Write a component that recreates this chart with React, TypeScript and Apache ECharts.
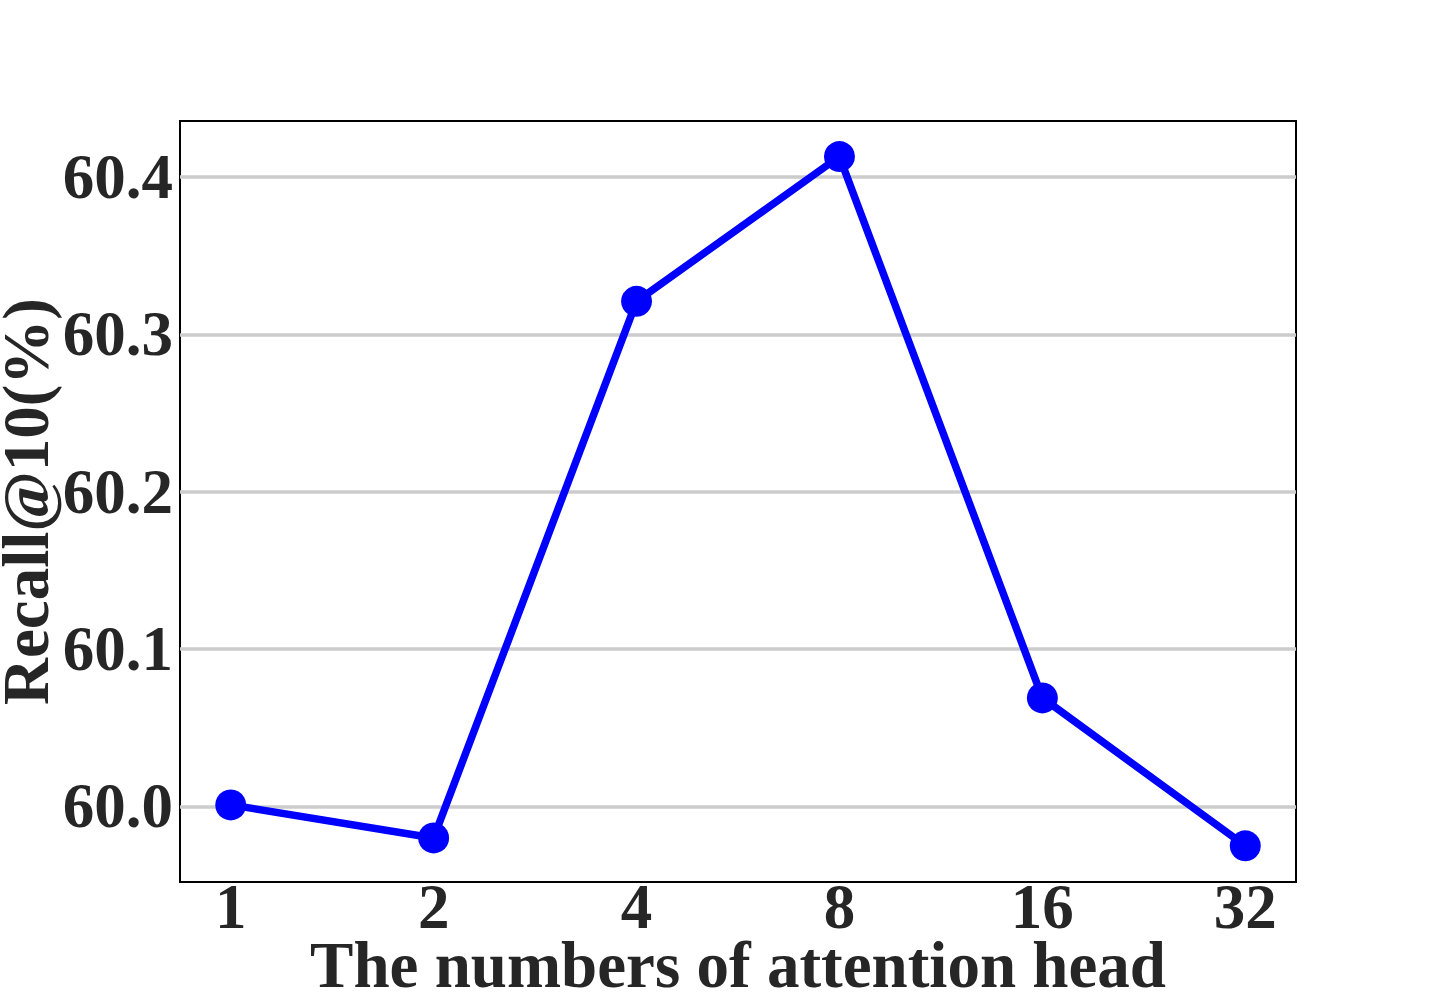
import React, { useEffect, useRef } from "react";
import * as echarts from "echarts";

const categories = ["1", "2", "4", "8", "16", "32"];
const recallValues = [60.001, 59.98, 60.321, 60.413, 60.069, 59.975];
const yTickValues = [60.0, 60.1, 60.2, 60.3, 60.4];
const xTickIndex = [0, 1, 2, 3, 4, 5];

const FONT = "'Liberation Serif', 'Times New Roman', serif";
const TEXT = "#262626";

export default function App() {
  const ref = useRef<HTMLDivElement>(null);
  useEffect(() => {
    document.body.style.margin = "0";
    const chart = echarts.init(ref.current!, null, { renderer: "svg" });
    chart.setOption({
      animation: false,
      backgroundColor: "#ffffff",
      grid: {
        left: 180,
        top: 121,
        right: 144,
        bottom: 126,
        outerBoundsMode: "none",
        containLabel: false,
        show: true,
        borderColor: "#000000",
        borderWidth: 2,
        backgroundColor: "transparent",
      },
      xAxis: {
        type: "value",
        min: -0.25,
        max: 5.25,
        name: "The numbers of attention head",
        nameLocation: "middle",
        nameGap: 54.5,
        nameMoveOverlap: false,
        nameTextStyle: { fontFamily: FONT, fontWeight: "bold", fontSize: 65, color: TEXT, lineHeight: 56 },
        axisLine: { show: false },
        axisTick: { show: false, customValues: xTickIndex },
        splitLine: { show: false },
        axisLabel: {
          customValues: xTickIndex,
          formatter: (v: number) => categories[Math.round(v)],
          fontFamily: FONT,
          fontWeight: "bold",
          fontSize: 63,
          lineHeight: 50,
          color: TEXT,
          margin: 0,
        },
      },
      yAxis: {
        type: "value",
        min: 59.952,
        max: 60.4356,
        name: "Recall@10(%)",
        nameLocation: "middle",
        nameGap: 131,
        nameMoveOverlap: false,
        nameTextStyle: { fontFamily: FONT, fontWeight: "bold", fontSize: 65, color: TEXT, lineHeight: 46 },
        axisLine: { show: false },
        axisTick: { show: false, customValues: yTickValues },
        splitLine: { show: true, lineStyle: { color: "#cccccc", width: 3.5 } },
        axisLabel: {
          customValues: yTickValues,
          formatter: (v: number) => v.toFixed(1),
          fontFamily: FONT,
          fontWeight: "bold",
          fontSize: 63,
          color: TEXT,
          margin: 7,
        },
      },
      series: [
        {
          type: "line",
          data: recallValues.map((v, i) => [xTickIndex[i], v]),
          symbol: "circle",
          symbolSize: 31,
          lineStyle: { color: "#0000ff", width: 7.5 },
          itemStyle: { color: "#0000ff" },
        },
      ],
    });
    return () => chart.dispose();
  }, []);
  return <div ref={ref} style={{ width: 1440, height: 1008 }} />;
}
